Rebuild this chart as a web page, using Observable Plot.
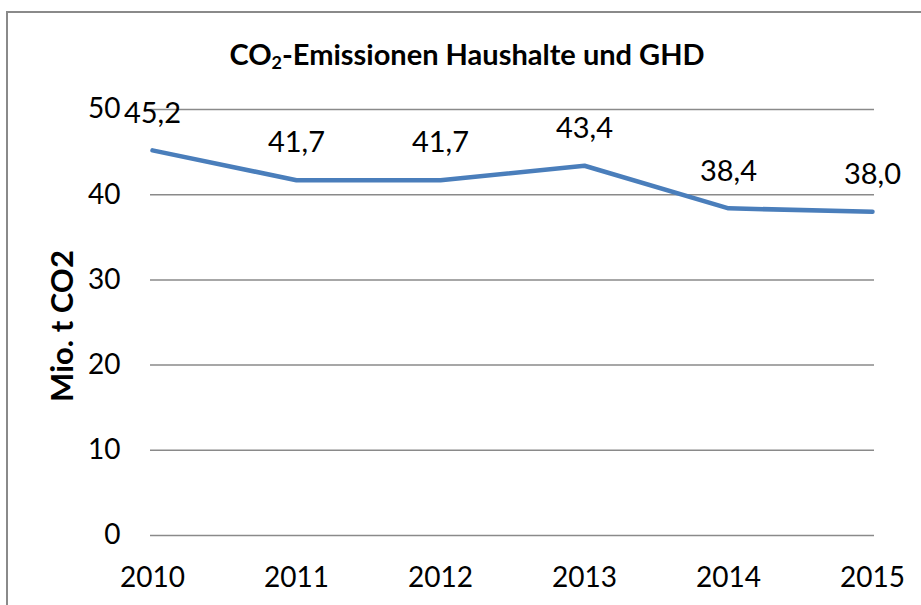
<!DOCTYPE html>
<html>
<head>
<meta charset="utf-8">
<script src="https://cdn.jsdelivr.net/npm/d3@7"></script>
<script src="https://cdn.jsdelivr.net/npm/@observablehq/plot@0.6"></script>
<style>
  html, body { margin: 0; padding: 0; background: #fff; }
  #wrap { position: relative; width: 921px; height: 605px; overflow: hidden; font-family: Lato, "Open Sans", sans-serif; }
  #frame { position: absolute; left: 6px; top: 11px; right: -10px; bottom: -10px; border-left: 2px solid #8a8a8a; border-top: 2px solid #8a8a8a; }
  #title { position: absolute; left: 467px; top: 37px; transform: translateX(-50%); white-space: nowrap; font-weight: bold; font-size: 29px; line-height: 1.2; color: #000; }
  #title sub { font-size: 0.62em; vertical-align: -0.25em; line-height: 0; }
  #ylabel { position: absolute; left: 61px; top: 326px; transform: translate(-50%, -50%) rotate(-90deg); white-space: nowrap; font-weight: bold; font-size: 31px; color: #000; }
  #chart { position: absolute; left: 0; top: 0; }
</style>
</head>
<body>
<div id="wrap">
  <div id="frame"></div>
  <div id="chart"></div>
  <div id="title">CO<sub>2</sub>-Emissionen Haushalte und GHD</div>
  <div id="ylabel">Mio. t CO2</div>
</div>
<script>
const years = ["2010", "2011", "2012", "2013", "2014", "2015"];
const emissions = [45.2, 41.7, 41.7, 43.4, 38.4, 38.0];
const yTicks = [0, 10, 20, 30, 40, 50];

const data = years.map((y, i) => ({year: y, value: emissions[i]}));
const fmt = v => v.toFixed(1).replace(".", ",");

const chart = Plot.plot({
  width: 921,
  height: 605,
  marginLeft: 150,
  marginRight: 47,
  marginTop: 109,
  marginBottom: 70,
  style: {fontFamily: "Lato, 'Open Sans', sans-serif", fontSize: "28px", color: "#000", background: "transparent"},
  x: {type: "point", domain: years, padding: 0},
  y: {domain: [0, 50]},
  marks: [
    Plot.gridY(yTicks, {stroke: "#8a8a8a", strokeOpacity: 1, strokeWidth: 1.5}),
    Plot.axisY(yTicks, {tickSize: 0, tickPadding: 30, label: null, fontSize: 28, tickFormat: d => String(d)}),
    Plot.axisX(years, {tickSize: 0, tickPadding: 32, label: null, fontSize: 28}),
    Plot.line(data, {x: "year", y: "value", stroke: "#4a7ebb", strokeWidth: 4.5, strokeLinejoin: "round"}),
    Plot.text(data, {x: "year", y: "value", text: d => fmt(d.value), dy: -37, fontSize: 29, fill: "#000"})
  ]
});
document.getElementById("chart").appendChild(chart);
</script>
</body>
</html>
